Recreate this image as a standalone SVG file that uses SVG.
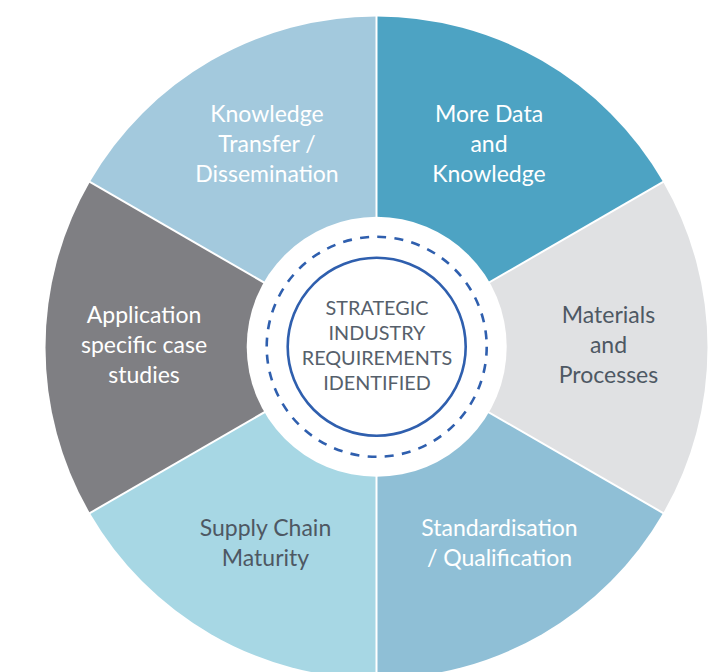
<svg xmlns="http://www.w3.org/2000/svg" width="719" height="672" viewBox="0 0 719 672">
  <style>
    .lbl { font-family: Lato, "Open Sans", "Liberation Sans", sans-serif; font-size: 23px; text-anchor: middle; }
    .light { fill: #ffffff; }
    .dark { fill: #4e5863; }
    .core { font-family: Lato, "Open Sans", "Liberation Sans", sans-serif; font-size: 19.8px; text-anchor: middle; fill: #56606b; }
    .divider { stroke: #ffffff; stroke-width: 2; }
  </style>
  <rect width="719" height="672" fill="#ffffff"/>

  <!-- wheel segments: centre (376.5, 347.5), radius 331 -->
  <g id="seg-knowledge-transfer">
    <path d="M376.5 347.5 L89.85 182 A331 331 0 0 1 376.5 16.5 Z" fill="#a3c9dd"/>
    <text class="lbl light" x="267" y="122">Knowledge</text>
    <text class="lbl light" x="267" y="152">Transfer /</text>
    <text class="lbl light" x="267" y="182">Dissemination</text>
  </g>
  <g id="seg-more-data">
    <path d="M376.5 347.5 L376.5 16.5 A331 331 0 0 1 663.15 182 Z" fill="#4da3c3"/>
    <text class="lbl light" x="489" y="122">More Data</text>
    <text class="lbl light" x="489" y="152">and</text>
    <text class="lbl light" x="489" y="182">Knowledge</text>
  </g>
  <g id="seg-materials">
    <path d="M376.5 347.5 L663.15 182 A331 331 0 0 1 663.15 513 Z" fill="#e0e1e3"/>
    <text class="lbl dark" x="608.5" y="323">Materials</text>
    <text class="lbl dark" x="608.5" y="353">and</text>
    <text class="lbl dark" x="608.5" y="383">Processes</text>
  </g>
  <g id="seg-standardisation">
    <path d="M376.5 347.5 L663.15 513 A331 331 0 0 1 376.5 678.5 Z" fill="#8fbfd6"/>
    <text class="lbl light" x="499.5" y="536">Standardisation</text>
    <text class="lbl light" x="499.5" y="566">/ Qualification</text>
  </g>
  <g id="seg-supply-chain">
    <path d="M376.5 347.5 L376.5 678.5 A331 331 0 0 1 89.85 513 Z" fill="#a7d7e4"/>
    <text class="lbl dark" x="265.5" y="536">Supply Chain</text>
    <text class="lbl dark" x="265.5" y="566">Maturity</text>
  </g>
  <g id="seg-application">
    <path d="M376.5 347.5 L89.85 513 A331 331 0 0 1 89.85 182 Z" fill="#7f7f83"/>
    <text class="lbl light" x="144" y="323">Application</text>
    <text class="lbl light" x="144" y="353">specific case</text>
    <text class="lbl light" x="144" y="383">studies</text>
  </g>

  <!-- white separators between segments -->
  <g id="dividers">
    <line class="divider" x1="376.5" y1="347.5" x2="376.5" y2="16"/>
    <line class="divider" x1="376.5" y1="347.5" x2="663.6" y2="181.7"/>
    <line class="divider" x1="376.5" y1="347.5" x2="663.6" y2="513.3"/>
    <line class="divider" x1="376.5" y1="347.5" x2="376.5" y2="679"/>
    <line class="divider" x1="376.5" y1="347.5" x2="89.4" y2="513.3"/>
    <line class="divider" x1="376.5" y1="347.5" x2="89.4" y2="181.7"/>
  </g>

  <!-- hub -->
  <g id="hub">
    <circle cx="376.7" cy="346.8" r="130" fill="#ffffff"/>
    <circle cx="376.7" cy="346.8" r="110" fill="none" stroke="#2f5fae" stroke-width="2.6" stroke-dasharray="9 8.28"/>
    <circle cx="376.7" cy="346.8" r="89" fill="none" stroke="#2f5fae" stroke-width="2.6"/>
    <text class="core" x="377" y="315">STRATEGIC</text>
    <text class="core" x="377" y="340">INDUSTRY</text>
    <text class="core" x="377" y="365">REQUIREMENTS</text>
    <text class="core" x="377" y="390">IDENTIFIED</text>
  </g>
</svg>
